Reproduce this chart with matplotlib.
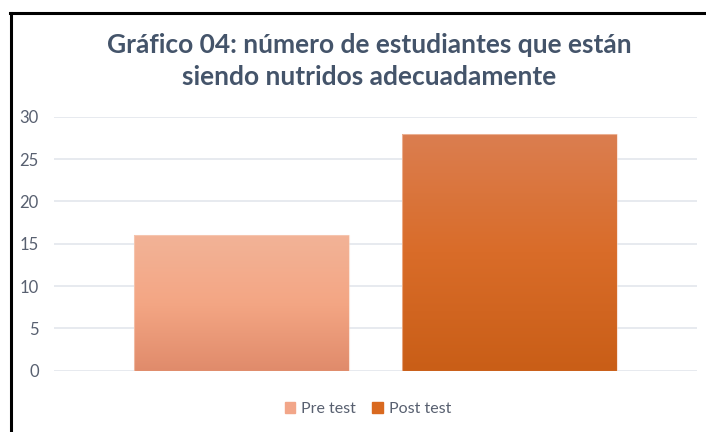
import matplotlib
matplotlib.use("Agg")
import matplotlib.pyplot as plt
import matplotlib.lines as mlines
from matplotlib.colors import LinearSegmentedColormap
import numpy as np

plt.rcParams['font.family'] = ['Lato', 'DejaVu Sans']

Categories = ["Pre test", "Post test"]
Values = [16, 28]
TitleText = "Gráfico 04: número de estudiantes que están\nsiendo nutridos adecuadamente"
YTicks = [0, 5, 10, 15, 20, 25, 30]

# colour gradients of the bars, top -> middle -> bottom
GradPre = ["#F2B397", "#F4A684", "#E08B6B"]
GradPost = ["#DB7E50", "#D96C29", "#C95E17"]
LegendColor = ["#F2A689", "#D9691F"]
TextColor = "#44546A"
TickColor = "#586070"

W, H = 706, 432
fig = plt.figure(figsize=(W/100, H/100), dpi=100)

def fx(px):
    return px / W

def fy(py):
    return 1 - py / H

ax = fig.add_axes([fx(54), fy(370.7), fx(697) - fx(54), fy(116.7) - fy(370.7)])

xpos = np.arange(len(Values))
bars = ax.bar(xpos, Values, width=0.80, color="none", edgecolor="none", zorder=2)

for eBar, eGrad in zip(bars, [GradPre, GradPost]):
    cmap = LinearSegmentedColormap.from_list("g", eGrad[::-1])
    x0 = eBar.get_x()
    x1 = x0 + eBar.get_width()
    grad = np.linspace(0, 1, 256).reshape(-1, 1)
    im = ax.imshow(grad, cmap=cmap, aspect="auto", origin="lower",
                   extent=[x0, x1, 0, eBar.get_height()], zorder=3)
    im.set_clip_path(eBar)
    # thin light outline on the bar
    ax.add_patch(plt.Rectangle((x0, 0), x1 - x0, eBar.get_height(),
                               fill=False, edgecolor="#F8D3C0", linewidth=0.8,
                               alpha=0.6, zorder=4))

ax.set_xlim(-0.70, 1.70)
ax.set_ylim(0, 30)
ax.set_yticks(YTicks)
ax.set_xticks([])
ax.tick_params(axis="y", length=0, labelsize=12, labelcolor=TickColor, pad=11)
for s in ax.spines.values():
    s.set_visible(False)
ax.yaxis.grid(True, color="#E3E6EC", linewidth=1.2, zorder=0)
ax.set_axisbelow(True)

fig.text(fx(369), fy(61), TitleText, ha="center", va="center",
         fontsize=19, fontweight="bold", color=TextColor, linespacing=1.38)

# legend
handles = [plt.Rectangle((0, 0), 1, 1, color=c) for c in LegendColor]
fig.legend(handles, Categories, loc="center", bbox_to_anchor=(fx(368), fy(409)),
           ncol=2, frameon=False, fontsize=11.5, labelcolor=TickColor,
           handlelength=0.65, handleheight=0.65, handletextpad=0.4, columnspacing=1.0)

# outer frame: left and top edges
fig.add_artist(mlines.Line2D([fx(11), fx(11)], [0, fy(13)], color="black", linewidth=2.2))
fig.add_artist(mlines.Line2D([fx(10), 1], [fy(13), fy(13)], color="black", linewidth=2.2))

fig.savefig("out.png", dpi=100)
